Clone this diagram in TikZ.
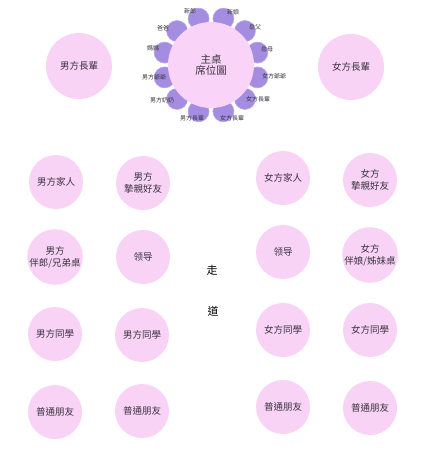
\documentclass[tikz,border=0pt]{standalone}
\usepackage{fontspec}
\setmainfont{Noto Sans CJK TC}
\usepackage{xcolor}
\usetikzlibrary{calc}
\definecolor{tablepink}{HTML}{F8D3F6}
\definecolor{mainpink}{HTML}{FAD4F8}
\definecolor{seatpurple}{HTML}{A48CE0}
\definecolor{labelgrey}{HTML}{3B3340}
\tikzset{
  guest/.style={circle, fill=tablepink, minimum size=54pt, inner sep=0pt, align=center,
    font=\fontsize{9.5}{12}\selectfont, text=labelgrey},
  elder/.style={guest, minimum size=66pt},
  seat/.style={circle, fill=seatpurple, draw=seatpurple!75!white, line width=0.6pt,
    minimum size=21pt, inner sep=0pt},
  seatlabel/.style={font=\fontsize{6}{7}\selectfont, text=labelgrey, inner sep=0pt},
  aisle/.style={font=\fontsize{11}{13}\selectfont, text=black},
}

\begin{document}
\begin{tikzpicture}[x=1pt, y=-1pt]
\useasboundingbox[fill=white] (0,0) rectangle (428,454);

% MAIN TABLE
% table centre
\coordinate (T) at (211, 65);
% seats
\node[seat] (S1) at ($(T) + ({48*cos(105)}, {-48*sin(105)})$) {};
\node[seat] (S2) at ($(T) + ({48*cos(75)}, {-48*sin(75)})$) {};
\node[seat] (S3) at ($(T) + ({48*cos(45)}, {-48*sin(45)})$) {};
\node[seat] (S4) at ($(T) + ({48*cos(15)}, {-48*sin(15)})$) {};
\node[seat] (S5) at ($(T) + ({48*cos(-15)}, {-48*sin(-15)})$) {};
\node[seat] (S6) at ($(T) + ({48*cos(-45)}, {-48*sin(-45)})$) {};
\node[seat] (S7) at ($(T) + ({48*cos(-75)}, {-48*sin(-75)})$) {};
\node[seat] (S8) at ($(T) + ({48*cos(-105)}, {-48*sin(-105)})$) {};
\node[seat] (S9) at ($(T) + ({48*cos(-135)}, {-48*sin(-135)})$) {};
\node[seat] (S10) at ($(T) + ({48*cos(-165)}, {-48*sin(-165)})$) {};
\node[seat] (S11) at ($(T) + ({48*cos(165)}, {-48*sin(165)})$) {};
\node[seat] (S12) at ($(T) + ({48*cos(135)}, {-48*sin(135)})$) {};
% table top
\node[guest, fill=mainpink, minimum size=86pt, font=\fontsize{10.5}{11.5}\selectfont] (main) at (T) {主桌\\席位圖};
% seat labels
\node[seatlabel] (L1) at (190, 11) {新郎};
\node[seatlabel] (L2) at (233, 12) {新娘};
\node[seatlabel] (L3) at (255, 27) {岳父};
\node[seatlabel] (L4) at (267, 49) {岳母};
\node[seatlabel] (L5) at (274, 76) {女方爺爺};
\node[seatlabel] (L6) at (258, 99) {女方長輩};
\node[seatlabel] (L7) at (232, 118) {女方長輩};
\node[seatlabel] (L8) at (192, 118) {男方長輩};
\node[seatlabel] (L9) at (162, 100) {男方奶奶};
\node[seatlabel] (L10) at (154, 77) {男方爺爺};
\node[seatlabel] (L11) at (153, 48) {媽媽};
\node[seatlabel] (L12) at (163, 28) {爸爸};

% ELDER TABLES
\node[elder] (groomelder) at (79, 66) {男方長輩};
\node[elder] (brideelder) at (351, 67) {女方長輩};

% GROOM SIDE
\node[guest] (G1) at (56, 182) {男方家人};
\node[guest] (G2) at (143, 183) {男方\\摯親好友};
\node[guest] (G3) at (55, 257) {男方\\伴郎/兄弟桌};
\node[guest] (G4) at (143, 257) {领导};
\node[guest] (G5) at (55, 334) {男方同學};
\node[guest] (G6) at (142, 335) {男方同學};
\node[guest] (G7) at (55, 412) {普通朋友};
\node[guest] (G8) at (142, 411) {普通朋友};

% BRIDE SIDE
\node[guest] (B1) at (283, 178) {女方家人};
\node[guest] (B2) at (370, 180) {女方\\摯親好友};
\node[guest] (B3) at (283, 252) {领导};
\node[guest] (B4) at (370, 255) {女方\\伴娘/姊妹桌};
\node[guest] (B5) at (283, 330) {女方同學};
\node[guest] (B6) at (370, 330) {女方同學};
\node[guest] (B7) at (283, 407) {普通朋友};
\node[guest] (B8) at (370, 408) {普通朋友};

% AISLE
\node[aisle] (walk) at (212, 270) {走};
\node[aisle] (way) at (213, 311) {道};

\end{tikzpicture}
\end{document}
